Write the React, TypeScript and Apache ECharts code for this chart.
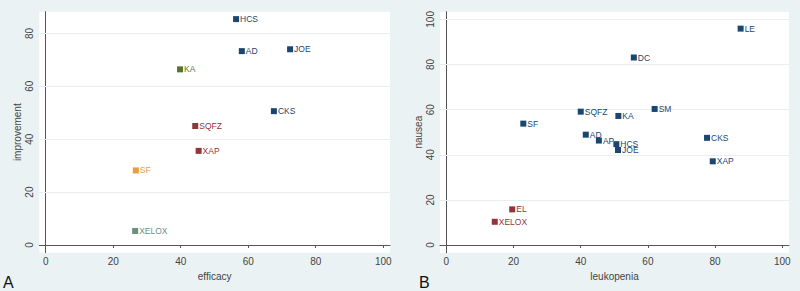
import React, { useEffect, useRef } from "react";
import * as echarts from "echarts";

// Panel A: efficacy vs improvement
const effNames = ["HCS", "AD", "JOE", "KA", "CKS", "SQFZ", "XAP", "SF", "XELOX"];
const efficacy = [56.4, 58.1, 72.4, 39.8, 67.6, 44.3, 45.3, 26.7, 26.5];
const improvement = [85.4, 73.3, 74.0, 66.4, 50.6, 45.0, 35.6, 28.2, 5.3];
const effGroup = [0, 0, 0, 1, 0, 2, 2, 3, 4];

// Panel B: leukopenia vs nausea
const toxNames = ["LE", "DC", "SM", "SQFZ", "KA", "SF", "AD", "AP", "HCS", "JOE", "CKS", "XAP", "EL", "XELOX"];
const leukopenia = [87.6, 55.8, 62.0, 40.0, 51.2, 22.9, 41.5, 45.4, 50.6, 51.1, 77.6, 79.3, 19.6, 14.4];
const nausea = [95.9, 83.1, 60.3, 59.1, 57.2, 53.8, 48.9, 46.3, 44.7, 42.1, 47.5, 37.1, 15.8, 10.3];
const toxGroup = [0, 0, 0, 0, 0, 0, 0, 0, 0, 0, 0, 0, 2, 2];

const xTicks = [0, 20, 40, 60, 80, 100];
const yTicksA = [0, 20, 40, 60, 80];
const yTicksB = [0, 20, 40, 60, 80, 100];
const gridA = [20, 40, 60, 80];
const gridB = [20, 40, 60, 80, 100];

const palette = ["#1a476f", "#55752f", "#90353b", "#ec9a44", "#6e8e84"];
const FONT = "'Liberation Sans', Arial, sans-serif";

function makeX(idx: number, name: string) {
  return {
    type: "value",
    gridIndex: idx,
    min: -1.9,
    max: 102,
    name,
    nameLocation: "middle",
    nameGap: 16,
    nameTextStyle: { color: "#444", fontSize: 10, fontFamily: FONT },
    axisLine: { show: true, lineStyle: { color: "#555", width: 1 } },
    axisTick: { show: true, length: 3, customValues: xTicks, lineStyle: { color: "#555" } },
    axisLabel: { show: true, customValues: xTicks, color: "#444", fontSize: 10, fontFamily: FONT, margin: 4 },
    splitLine: { show: false },
  };
}

function makeY(idx: number, name: string, min: number, max: number, ticks: number[]) {
  return {
    type: "value",
    gridIndex: idx,
    min,
    max,
    name,
    nameLocation: "middle",
    nameGap: 17,
    nameTextStyle: { color: "#444", fontSize: 10, fontFamily: FONT },
    axisLine: { show: true, lineStyle: { color: "#555", width: 1 } },
    axisTick: { show: true, length: 3, customValues: ticks, lineStyle: { color: "#555" } },
    axisLabel: { show: true, customValues: ticks, rotate: 90, color: "#444", fontSize: 10, fontFamily: FONT, margin: 5 },
    splitLine: { show: false },
  };
}

function makeSeries(idx: number, names: string[], xs: number[], ys: number[], groups: number[], grid: number[]) {
  return {
    type: "scatter",
    xAxisIndex: idx,
    yAxisIndex: idx,
    symbol: "rect",
    symbolSize: 6,
    itemStyle: { opacity: 1 },
    data: names.map((n, i) => ({
      name: n,
      value: [xs[i], ys[i]],
      itemStyle: { color: palette[groups[i]], opacity: 1 },
      label: { color: palette[groups[i]] },
    })),
    label: {
      show: true,
      position: "right",
      distance: 1,
      formatter: (p: any) => p.name,
      fontSize: 8.5,
      fontFamily: FONT,
    },
    markLine: {
      silent: true,
      symbol: ["none", "none"],
      label: { show: false },
      lineStyle: { color: "#e8eef1", width: 1, type: "solid" },
      data: grid.map((v) => ({ yAxis: v })),
      z: 1,
    },
    z: 3,
  };
}

export default function App() {
  const ref = useRef<HTMLDivElement>(null);
  useEffect(() => {
    document.body.style.margin = "0";
    if (!ref.current) return;
    const chart = echarts.init(ref.current, undefined, { renderer: "svg" });
    chart.setOption({
      animation: false,
      backgroundColor: "#eaf2f3",
      grid: [
        { left: 39.3, top: 11.7, width: 350.7, height: 241, show: true, backgroundColor: "#ffffff", borderWidth: 0 },
        { left: 440, top: 11.7, width: 349, height: 241, show: true, backgroundColor: "#ffffff", borderWidth: 0 },
      ],
      xAxis: [makeX(0, "efficacy"), makeX(1, "leukopenia")],
      yAxis: [
        makeY(0, "improvement", -2.9, 88.2, yTicksA),
        makeY(1, "nausea", -3.4, 103.4, yTicksB),
      ],
      series: [
        makeSeries(0, effNames, efficacy, improvement, effGroup, gridA),
        makeSeries(1, toxNames, leukopenia, nausea, toxGroup, gridB),
      ],
      graphic: [
        { type: "text", left: 3, top: 274, style: { text: "A", fontSize: 16, fontFamily: FONT, fill: "#111" } },
        { type: "text", left: 419, top: 274, style: { text: "B", fontSize: 16, fontFamily: FONT, fill: "#111" } },
      ],
    });
    return () => chart.dispose();
  }, []);
  return <div ref={ref} style={{ width: 800, height: 291 }} />;
}
